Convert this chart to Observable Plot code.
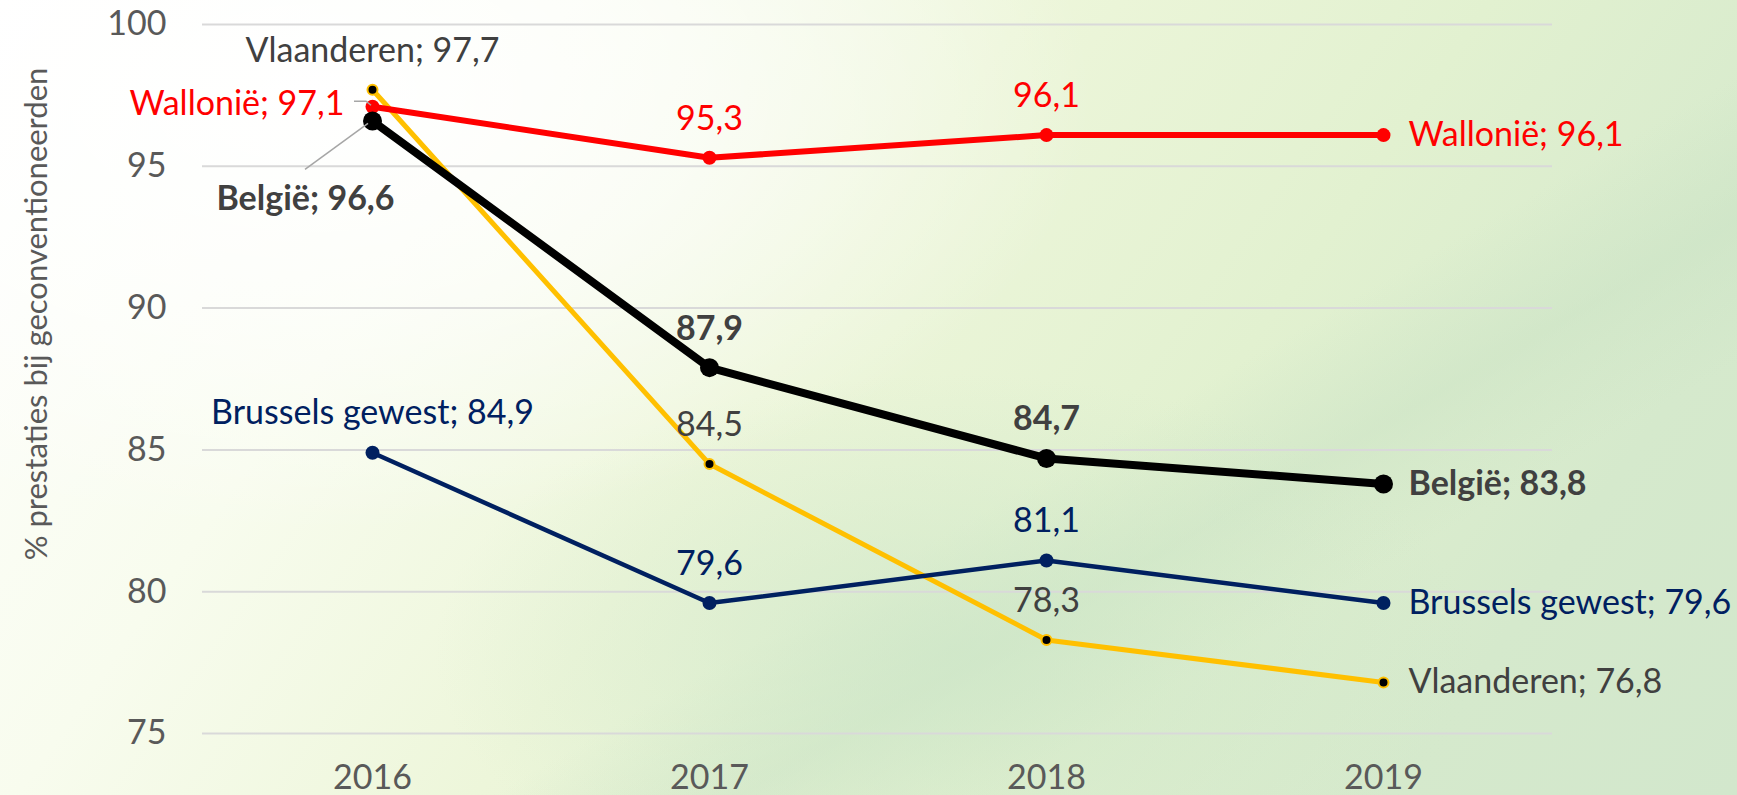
<!DOCTYPE html>
<html>
<head>
<meta charset="utf-8">
<script src="https://cdn.jsdelivr.net/npm/d3@7"></script>
<script src="https://cdn.jsdelivr.net/npm/@observablehq/plot@0.6"></script>
<style>
  html, body { margin: 0; padding: 0; width: 1737px; height: 795px; overflow: hidden; }
  body {
    background:
      radial-gradient(ellipse 45% 55% at 18% 12%, rgba(255,255,255,1) 0%, rgba(255,255,255,0.6) 50%, rgba(255,255,255,0) 100%),
      radial-gradient(ellipse 30% 35% at 55% 82%, rgba(205,230,200,0.7) 0%, rgba(205,230,200,0) 100%),
      linear-gradient(150deg, rgba(255,255,255,0) 60%, rgba(200,225,195,0.45) 68%, rgba(255,255,255,0) 76%),
      linear-gradient(125deg, #ffffff 0%, #f8fcee 25%, #edf6da 45%, #e2f1d0 65%, #d5e9cc 85%, #d2e7cc 100%);
  }
  #chart svg { display: block; }
</style>
</head>
<body>
<div id="chart"></div>
<script>
// ---- data ----
const years = ["2016", "2017", "2018", "2019"];
const seriesNames = ["België", "Wallonië", "Vlaanderen", "Brussels gewest"];
const belgie = [96.6, 87.9, 84.7, 83.8];
const wallonie = [97.1, 95.3, 96.1, 96.1];
const vlaanderen = [97.7, 84.5, 78.3, 76.8];
const brussel = [84.9, 79.6, 81.1, 79.6];
const yTicks = [75, 80, 85, 90, 95, 100];
const yDomain = [75, 100];
const yLabel = "% prestaties bij geconventioneerden";

// ---- build table ----
const valuesByName = {
  "België": belgie,
  "Wallonië": wallonie,
  "Vlaanderen": vlaanderen,
  "Brussels gewest": brussel
};
const rows = [];
for (const name of seriesNames) {
  valuesByName[name].forEach((v, i) => rows.push({series: name, year: years[i], value: v, i}));
}
const fmt = v => d3.format(".1f")(v).replace(".", ",");

// ---- styles (not data) ----
const style = {
  "België":          {stroke: "#000000", width: 8,   r: 9.5, fill: "#000000", dotStroke: "none",     dotSW: 0, text: "#404040", weight: "bold"},
  "Wallonië":        {stroke: "#FF0000", width: 6,   r: 7,   fill: "#FF0000", dotStroke: "none",     dotSW: 0, text: "#FF0000", weight: "normal"},
  "Vlaanderen":      {stroke: "#FFC000", width: 5,   r: 5,   fill: "#000000", dotStroke: "#FFC000",  dotSW: 2, text: "#404040", weight: "normal"},
  "Brussels gewest": {stroke: "#002060", width: 4.5, r: 7,   fill: "#002060", dotStroke: "none",     dotSW: 0, text: "#002060", weight: "normal"}
};
// first-year label placement (pixel offsets relative to the point)
const firstPlace = {
  "België":          {dx: -67, dy: 78,  anchor: "middle"},
  "Wallonië":        {dx: -28, dy: -3,  anchor: "end"},
  "Vlaanderen":      {dx: 0,   dy: -39, anchor: "middle"},
  "Brussels gewest": {dx: 0,   dy: -40, anchor: "middle"}
};
const drawOrder = ["Vlaanderen", "Brussels gewest", "Wallonië", "België"];
const FONT = "Lato";
const FS = 34;

const marks = [];
marks.push(Plot.gridY(yTicks, {stroke: "#d9d9d9", strokeOpacity: 1, strokeWidth: 2}));
marks.push(Plot.axisY({ticks: yTicks, tickSize: 0, tickPadding: 36, label: null, fontSize: FS, fill: "#595959"}));
marks.push(Plot.axisX({tickSize: 0, tickPadding: 31, label: null, fontSize: FS, fill: "#595959"}));
marks.push(Plot.text([yLabel], {frameAnchor: "left", textAnchor: "middle", rotate: -90, dx: -165, dy: -65, fontSize: 31, fill: "#595959"}));

for (const name of drawOrder) {
  const s = style[name];
  const d = rows.filter(r => r.series === name);
  marks.push(Plot.line(d, {x: "year", y: "value", stroke: s.stroke, strokeWidth: s.width, strokeLinejoin: "round"}));
}
for (const name of drawOrder) {
  const s = style[name];
  const d = rows.filter(r => r.series === name);
  marks.push(Plot.dot(d, {x: "year", y: "value", r: s.r, fill: s.fill, stroke: s.dotStroke, strokeWidth: s.dotSW}));
}

// leader lines for the first-year labels of België and Wallonië (anchored on the points via the scales)
marks.push((index, scales) => {
  const g = d3.create("svg:g");
  const pt = name => {
    const row = rows.find(r => r.series === name && r.i === 0);
    return [scales.x(row.year), scales.y(row.value)];
  };
  const [wx, wy] = pt("Wallonië");
  const [bx, by] = pt("België");
  const paths = [
    [[wx - 18, wy - 5], [wx - 6, wy - 5], [wx - 1, wy - 1]],
    [[bx - 67, by + 49], [bx - 4, by + 3]]
  ];
  for (const p of paths) {
    g.append("path")
      .attr("d", d3.line()(p))
      .attr("fill", "none")
      .attr("stroke", "#a6a6a6")
      .attr("stroke-width", 1.5);
  }
  return g.node();
});

for (const name of seriesNames) {
  const s = style[name];
  const d = rows.filter(r => r.series === name);
  const first = d.filter(r => r.i === 0);
  const mid = d.filter(r => r.i > 0 && r.i < years.length - 1);
  const last = d.filter(r => r.i === years.length - 1);
  const p = firstPlace[name];
  const common = {x: "year", y: "value", fill: s.text, fontSize: FS, fontWeight: s.weight};
  marks.push(Plot.text(first, {...common, text: r => `${r.series}; ${fmt(r.value)}`, dx: p.dx, dy: p.dy, textAnchor: p.anchor}));
  marks.push(Plot.text(mid, {...common, text: r => fmt(r.value), dy: -39, textAnchor: "middle"}));
  marks.push(Plot.text(last, {...common, text: r => `${r.series}; ${fmt(r.value)}`, dx: 25, textAnchor: "start"}));
}

const chart = Plot.plot({
  width: 1737,
  height: 795,
  marginLeft: 202,
  marginRight: 185,
  marginTop: 24,
  marginBottom: 62,
  style: {fontFamily: FONT, fontSize: FS + "px", background: "transparent", overflow: "visible"},
  x: {type: "point", domain: years, padding: 0.5},
  y: {domain: yDomain},
  marks
});
document.getElementById("chart").appendChild(chart);
</script>
</body>
</html>
